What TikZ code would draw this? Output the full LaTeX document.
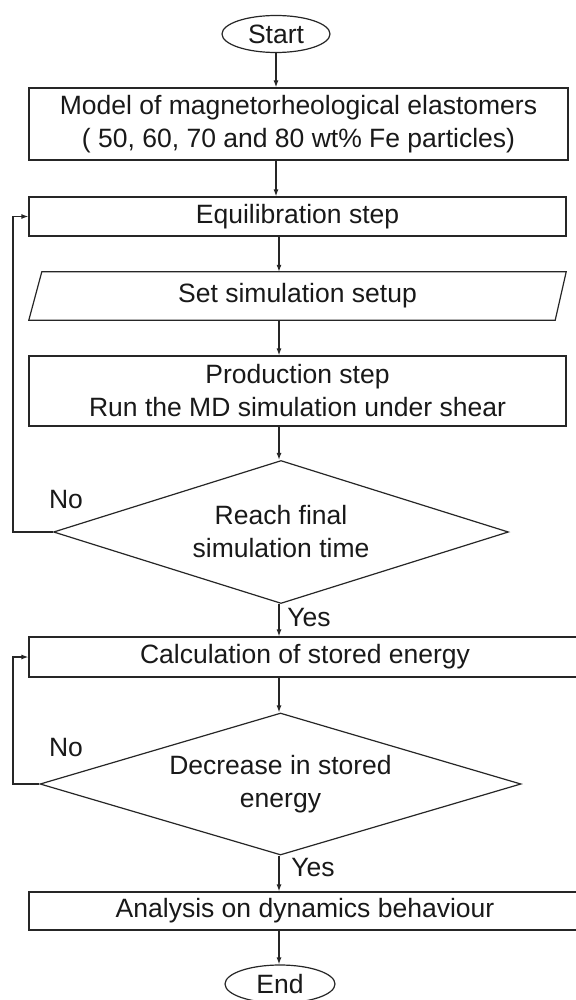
\documentclass[tikz,border=0pt]{standalone}
\usepackage{fontspec}
\setmainfont{Liberation Sans}
\usetikzlibrary{shapes.geometric,arrows.meta}
\begin{document}
\begin{tikzpicture}[x=1pt,y=-1pt,
  every node/.style={font=\fontsize{26.5}{33}\selectfont, text=black!90},
  line/.style={line width=1.2pt, draw=black!85},
  flow/.style={line, -{Latex[length=7pt,width=5pt]}},
  procbox/.style={line, rectangle, inner sep=0pt, align=center},
  terminal/.style={line, ellipse, inner sep=0pt},
  decision/.style={line, diamond, inner sep=0pt, align=center},
  tag/.style={inner sep=0pt}]
\useasboundingbox (0,0) rectangle (575,1000);
\fill[white] (0,0) rectangle (575,1000);

% main column
\node[terminal, minimum width=108pt, minimum height=37pt] (start) at (276,34) {Start};
\node[procbox, minimum width=539pt, minimum height=72pt] (model) at (298.5,124)
  {Model of magnetorheological elastomers\\( 50, 60, 70 and 80 wt\% Fe particles)};
\node[procbox, minimum width=537pt, minimum height=39pt] (equil) at (297.5,216.5) {Equilibration step};
\node[minimum width=537pt, minimum height=48pt, inner sep=0pt, align=center] (setup) at (297.5,296) {Set simulation setup};
\draw[line] ([xshift=13pt]setup.north west) -- (setup.north east)
  -- ([xshift=-11pt]setup.south east) -- (setup.south west) -- cycle;
\node[procbox, minimum width=537pt, minimum height=70pt] (prod) at (297.5,391)
  {Production step\\Run the MD simulation under shear};
\node[decision, aspect=3.18, minimum width=455pt, minimum height=143pt] (reach) at (281,532)
  {Reach final\\simulation time};
\node[procbox, minimum width=552pt, minimum height=40pt] (calc) at (305,657) {Calculation of stored energy};
\node[decision, aspect=3.39, minimum width=481pt, minimum height=142pt] (decr) at (280.5,784)
  {Decrease in stored\\energy};
\node[procbox, minimum width=552pt, minimum height=38pt] (anal) at (305,911) {Analysis on dynamics behaviour};
\node[terminal, minimum width=110pt, minimum height=38pt] (end) at (280,984) {End};

% branch labels
\node[tag] (no1) at (66,500) {No};
\node[tag] (no2) at (66,748) {No};
\node[tag] (yes1) at (309,618) {Yes};
\node[tag] (yes2) at (313,868) {Yes};

% connectors
\coordinate (axis) at (279,0);
\coordinate (loopx) at (13,0);
\draw[flow] (start.south) -- (start.south |- model.north);
\draw[flow] (model.south -| start) -- (equil.north -| start);
\draw[flow] (axis |- equil.south) -- (axis |- setup.north);
\draw[flow] (axis |- setup.south) -- (axis |- prod.north);
\draw[flow] (axis |- prod.south) -- (axis |- reach.north);
\draw[flow] (axis |- reach.south) -- (axis |- calc.north);
\draw[flow] (axis |- calc.south) -- (axis |- decr.north);
\draw[flow] (axis |- decr.south) -- (axis |- anal.north);
\draw[flow] (axis |- anal.south) -- (axis |- end.north);

% feedback loops
\draw[flow] (reach.west) -- (reach.west -| loopx) |- (equil.west);
\draw[flow] (decr.west) -- (decr.west -| loopx) |- (calc.west);
\end{tikzpicture}
\end{document}
